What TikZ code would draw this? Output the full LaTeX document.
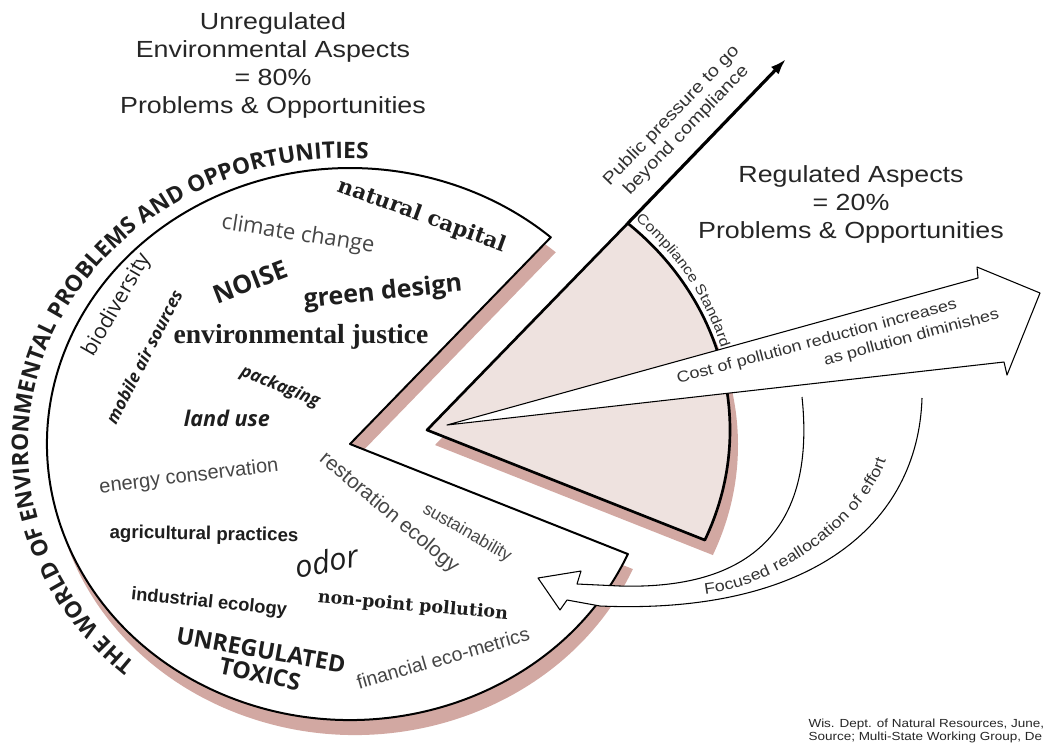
\documentclass[tikz,border=0pt]{standalone}
\usepackage{fontspec}
\usetikzlibrary{arrows.meta,decorations.text}
\setmainfont{Liberation Sans}
\newfontfamily\helvwide{Liberation Sans}[FakeStretch=1.15]
\newfontfamily\plainsans{Liberation Sans}
\newfontfamily\humsans{Open Sans}
\newfontfamily\slabserif{DejaVu Serif}
\newfontfamily\bookserif{Liberation Serif}
\newcommand{\fsz}[1]{\fontsize{#1}{#1}\selectfont}
\definecolor{titlegray}{RGB}{38,38,38}
\definecolor{labelgray}{RGB}{50,50,50}
\definecolor{topicgray}{RGB}{30,30,30}
\definecolor{softgray}{RGB}{70,70,70}
\definecolor{shadowrose}{RGB}{210,168,162}
\definecolor{slicepink}{RGB}{238,226,223}
\tikzset{every picture/.style={line width=0.75pt}}
\tikzset{
  piece/.style={draw=black, fill=white, line width=1.5pt, line join=round},
  slice/.style={draw=black, fill=slicepink, line width=2pt, line join=round},
  shade/.style={fill=shadowrose},
  hollow/.style={draw=black, fill=white, line width=0.8pt, line join=round},
  pressure/.style={line width=2.4pt, -{Latex[length=12pt,width=8pt]}},
  title/.style={font=\helvwide\fontsize{17.5}{21}\selectfont, text=titlegray, align=center, inner sep=0pt},
  arrowlabel/.style={font=\helvwide\fontsize{13}{15.5}\selectfont, text=labelgray, align=center, inner sep=0pt},
  topic/.style={inner sep=0pt, text=topicgray},
}

\begin{document}
\begin{tikzpicture}[x=0.75pt,y=0.75pt,yscale=-1,xscale=1]
\useasboundingbox (0,0) rectangle (1044,744);
\coordinate (bigc) at (350,444);
\coordinate (slicec) at (427,430);
\coordinate (pressuretip) at (786,59);
\coordinate (costtail) at (447,425);
\coordinate (costtip) at (1040,293);
\coordinate (reallotip) at (538,578);

%Shape: shadows of the two pieces
\fill[shade] (355,459) -- ++(23.5:303 and 276) arc[start angle=23.5, end angle=311.5, x radius=303, y radius=276] -- cycle;
\fill[shade] (435,445) -- ++(-48.5:303 and 276) arc[start angle=-48.5, end angle=23.5, x radius=303, y radius=276] -- cycle;

%Shape: unregulated piece (80%)
\draw[piece] (bigc) -- ++(23.5:303 and 276) arc[start angle=23.5, end angle=311.5, x radius=303, y radius=276] -- cycle;
%Shape: regulated piece (20%)
\draw[slice] (slicec) -- ++(-48.5:303 and 276) coordinate (comptop) arc[start angle=-48.5, end angle=23.5, x radius=303, y radius=276] -- cycle;

%Straight Lines: public pressure
\draw[pressure] (comptop) -- (pressuretip);

%Shape: cost arrow
\draw[hollow] (costtail) -- (978,278) -- (977,267) -- (costtip) -- (1007,375) -- (1004,362) -- cycle;

%Shape: reallocation arrow
\draw[hollow] (802,397) .. controls (815,520) and (760,590) .. (620,586) -- (577,584) -- (581,571) -- (reallotip) -- (560,610) -- (567,600) -- (600,606) .. controls (810,615) and (918,525) .. (922,398);

% Text Node: titles
\node[title, anchor=north] (unreg) at (273,12) {Unregulated\\Environmental Aspects\\= 80\%\\Problems \& Opportunities};
\node[title, anchor=north] (reg) at (851,165) {Regulated Aspects\\= 20\%\\Problems \& Opportunities};

% Text Node: arrow labels
\node[arrowlabel, rotate=46] (pressure) at (679,123) {Public pressure to go\\beyond compliance};
\node[arrowlabel, font=\helvwide\fontsize{11.7}{15.5}\selectfont, align=left, rotate=15] (cost) at (838,347)
  {Cost of pollution reduction increases\\\hspace*{110pt}as pollution diminishes};

% curved texts
\path[decorate, decoration={text along path, text align=fit to path,
  text={|\color{topicgray}\humsans\bfseries\fsz{17}|THE WORLD OF ENVIRONMENTAL PROBLEMS AND OPPORTUNITIES}}]
  (135.3,663.5) arc[start angle=131.5, end angle=274, x radius=318, y radius=289];
\path[decorate, decoration={text along path, text align=fit to path,
  text={|\color{labelgray}\helvwide\fsz{10.6}|Compliance Standard}}]
  (635.4,219.7) arc[start angle=-47, end angle=-16, x radius=307, y radius=280];
\path[decorate, decoration={text along path, text align=fit to path,
  text={|\color{labelgray}\helvwide\fsz{11.6}|Focused reallocation of effort}}]
  (705,594) .. controls (785,585) and (868,515) .. (886,460);

% Text Node: topics
\node[topic, font=\slabserif\bfseries\fsz{16}, rotate=-20] (natcap) at (422,216) {natural capital};
\node[topic, font=\humsans\fsz{16.5}, text=softgray, rotate=-9] (climate) at (298,235) {climate change};
\node[topic, font=\humsans\bfseries\fsz{19}, rotate=21] (noise) at (250,282) {NOISE};
\node[topic, font=\humsans\bfseries\fsz{18.8}, rotate=6] (green) at (383,293) {green design};
\node[topic, font=\bookserif\bfseries\fsz{20.7}] (envjust) at (301,337) {environmental justice};
\node[topic, font=\humsans\fsz{15.9}, rotate=60] (biodiv) at (117,305) {biodiversity};
\node[topic, font=\humsans\bfseries\itshape\fsz{12.8}, rotate=63] (mobile) at (144,357) {mobile air sources};
\node[topic, font=\humsans\bfseries\itshape\fsz{13}, rotate=-22] (pack) at (280,387) {packaging};
\node[topic, font=\humsans\bfseries\itshape\fsz{16.2}] (landuse) at (227,418) {land use};
\node[topic, font=\plainsans\fsz{15}, text=softgray, rotate=7] (energy) at (189,477) {energy conservation};
\node[topic, font=\plainsans\fsz{15.5}, text=softgray, rotate=-40] (resto) at (389,513) {restoration ecology};
\node[topic, font=\plainsans\fsz{13}, text=softgray, rotate=-30] (sustain) at (467,533) {sustainability};
\node[topic, font=\plainsans\bfseries\fsz{14}, rotate=-1] (agri) at (204,535) {agricultural practices};
\node[topic, font=\humsans\itshape\fsz{23}, rotate=11] (odor) at (327,561) {odor};
\node[topic, font=\plainsans\bfseries\fsz{13.7}, rotate=-6] (indus) at (209,603) {industrial ecology};
\node[topic, font=\slabserif\bfseries\fsz{13.1}, rotate=-5] (nonpoint) at (413,606) {non-point pollution};
\node[topic, font=\humsans\bfseries\fsz{17.5}, rotate=-10] (unregtox) at (261,650) {UNREGULATED};
\node[topic, font=\humsans\bfseries\fsz{17.5}, rotate=-12] (toxics) at (260,674) {TOXICS};
\node[topic, font=\plainsans\fsz{14.7}, text=softgray, rotate=16] (financial) at (443,658) {financial eco-metrics};

% Text Node: source
\node[anchor=base west, font=\helvwide\fsz{8.8}, text=titlegray, inner sep=0pt] (source) at (808,727) {Wis. Dept. of Natural Resources, June,};
\node[anchor=base west, font=\helvwide\fsz{8.8}, text=titlegray, inner sep=0pt] (source2) at (808,740) {Source; Multi-State Working Group, De};
\end{tikzpicture}
\end{document}
